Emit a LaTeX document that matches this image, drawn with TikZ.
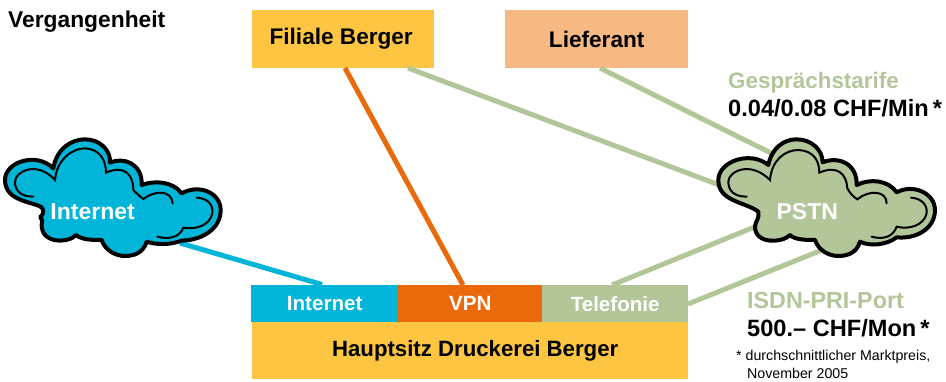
\documentclass[tikz,border=0pt]{standalone}
\usepackage{fontspec}
\setmainfont{Liberation Sans}
\definecolor{cyel}{HTML}{FDC541}
\definecolor{cpea}{HTML}{F6B983}
\definecolor{cblu}{HTML}{00B5D8}
\definecolor{cora}{HTML}{EA690B}
\definecolor{cgrn}{HTML}{B2C699}
\tikzset{
  boxn/.style={draw=none,inner sep=0pt,anchor=north west,font=\fontsize{22.6}{26}\selectfont\bfseries,text=black},
  whitet/.style={text=white,font=\fontsize{20.6}{24}\selectfont\bfseries},
  link/.style={line width=5pt,cgrn},
  lab/.style={inner sep=0pt,anchor=base west,font=\fontsize{23.3}{26}\selectfont\bfseries},
  small/.style={inner sep=0pt,anchor=base west,font=\fontsize{14.2}{16}\selectfont},
  cloudout/.style={line width=4pt,draw=black,line join=round},
  cloudin/.style={line width=2pt,draw=black,line cap=round}
}
\begin{document}
\begin{tikzpicture}[x=1pt,y=-1pt]
\useasboundingbox (0,0) rectangle (946,381);
% boxes
\node[boxn,fill=cyel,minimum width=182pt,minimum height=58pt] (fil) at (252,10) {Filiale Berger\kern4pt};
\node[boxn,fill=cpea,minimum width=183pt,minimum height=58pt] (lie) at (505,10) {Lieferant};
\node[boxn,fill=cyel,minimum width=436pt,minimum height=57pt,font=\fontsize{22.2}{26}\selectfont\bfseries] (hq) at (252,322) {\kern10pt Hauptsitz Druckerei Berger};
\node[boxn,whitet,fill=cblu,minimum width=147pt,minimum height=37pt] (bint) at (251,285) {Internet};
\node[boxn,whitet,fill=cora,minimum width=144pt,minimum height=37pt] (bvpn) at (398,285) {VPN};
\node[boxn,whitet,fill=cgrn,minimum width=146pt,minimum height=37pt] (btel) at (542,285) {Telefonie};
% connector ends
\coordinate (cia) at (180,243);
\coordinate (cib) at (322,284.5);
\coordinate (fa) at (345,68);
\coordinate (fb) at (463,285);
\coordinate (fc) at (408,68);
\coordinate (pa) at (722,186);
\coordinate (lc) at (600,68);
\coordinate (pb) at (775,155);
\coordinate (tc) at (612,285);
\coordinate (pc) at (757,226);
\coordinate (td) at (688,304);
\coordinate (pd) at (822,250);
\draw[line width=5pt,cblu] (cia) -- (cib);
\draw[line width=5pt,cora] (fa) -- (fb);
\draw[link] (fc) -- (pa);
\draw[link] (lc) -- (pb);
\draw[link] (tc) -- (pc);
\draw[link] (td) -- (pd);
% Internet cloud
\begin{scope}[shift={(0,130)},x=0.3333pt,y=-0.3333pt]
\path[cloudout,fill=cblu] (125,232) .. controls (100,215) and (15,215) .. (15,150)
 .. controls (15,95) and (110,65) .. (160,115)
 .. controls (170,55) and (215,28) .. (255,28)
 .. controls (300,28) and (332,60) .. (330,98)
 .. controls (370,80) and (428,100) .. (425,165)
 .. controls (465,150) and (520,155) .. (545,190)
 .. controls (600,160) and (662,190) .. (662,240)
 .. controls (662,295) and (610,330) .. (545,332)
 .. controls (510,345) and (470,345) .. (440,335)
 .. controls (430,370) and (400,378) .. (375,378)
 .. controls (345,378) and (315,360) .. (305,330)
 .. controls (280,330) and (245,330) .. (228,315)
 .. controls (210,338) and (125,345) .. (125,285)
 .. controls (125,275) and (130,270) .. (120,262)
 .. controls (128,255) and (135,245) .. cycle;
\draw[cloudin] (100,200) .. controls (60,200) and (45,180) .. (45,155)
 .. controls (45,125) and (110,90) .. (165,150)
 .. controls (170,90) and (215,55) .. (255,55)
 .. controls (295,57) and (318,85) .. (318,128)
 .. controls (370,105) and (400,130) .. (400,180)
 .. controls (410,190) and (420,200) .. (430,207)
 .. controls (465,180) and (515,180) .. (518,220);
\draw[cloudin] (590,203) .. controls (625,205) and (640,225) .. (637,250)
 .. controls (630,285) and (590,300) .. (550,293)
 .. controls (540,320) and (510,330) .. (472,320);
\node[inner sep=0pt,text=white,font=\fontsize{23}{26}\selectfont\bfseries] (cint) at (278,245) {Internet};
\end{scope}
% PSTN cloud
\begin{scope}[shift={(700,130)},x=0.3333pt,y=-0.3333pt]
\path[cloudout,fill=cgrn] (175,245) .. controls (135,215) and (55,215) .. (55,150)
 .. controls (55,95) and (150,60) .. (205,105)
 .. controls (215,55) and (250,28) .. (290,28)
 .. controls (335,28) and (368,60) .. (368,97)
 .. controls (415,78) and (472,100) .. (470,165)
 .. controls (510,145) and (565,150) .. (590,187)
 .. controls (640,160) and (705,190) .. (705,240)
 .. controls (705,295) and (650,328) .. (590,322)
 .. controls (560,345) and (510,350) .. (480,335)
 .. controls (470,370) and (440,378) .. (415,378)
 .. controls (385,378) and (355,360) .. (345,330)
 .. controls (320,330) and (285,330) .. (270,315)
 .. controls (250,338) and (165,345) .. (165,290)
 .. controls (165,275) and (180,265) .. cycle;
\draw[cloudin] (140,200) .. controls (100,200) and (85,180) .. (85,155)
 .. controls (85,125) and (150,90) .. (210,150)
 .. controls (215,90) and (255,60) .. (295,60)
 .. controls (335,62) and (358,85) .. (358,128)
 .. controls (410,105) and (440,130) .. (442,175)
 .. controls (450,190) and (460,200) .. (472,208)
 .. controls (505,180) and (560,180) .. (560,220);
\draw[cloudin] (633,203) .. controls (665,205) and (683,225) .. (680,250)
 .. controls (672,285) and (630,300) .. (590,290)
 .. controls (580,320) and (550,330) .. (515,320);
\node[inner sep=0pt,text=white,font=\fontsize{23}{26}\selectfont\bfseries] (cpstn) at (322,245) {PSTN};
\end{scope}
% labels
\node[lab,font=\fontsize{22.8}{26}\selectfont\bfseries] (ttl) at (8,27) {Vergangenheit};
\node[lab,text=cgrn,font=\fontsize{22.4}{26}\selectfont\bfseries] (gt) at (728,88) {Gesprächstarife};
\node[lab,font=\fontsize{23.6}{26}\selectfont\bfseries] (gp) at (728,116) {0.04/0.08 CHF/Min\,*};
\node[lab,text=cgrn,font=\fontsize{23.3}{26}\selectfont\bfseries] (ip) at (747,308) {ISDN-PRI-Port};
\node[lab,font=\fontsize{23.6}{26}\selectfont\bfseries] (im) at (747,336) {500.– CHF/Mon\,*};
\node[small] (n1) at (736,360) {* durchschnittlicher Marktpreis,};
\node[small] (n2) at (747,378) {November 2005};
\end{tikzpicture}
\end{document}
